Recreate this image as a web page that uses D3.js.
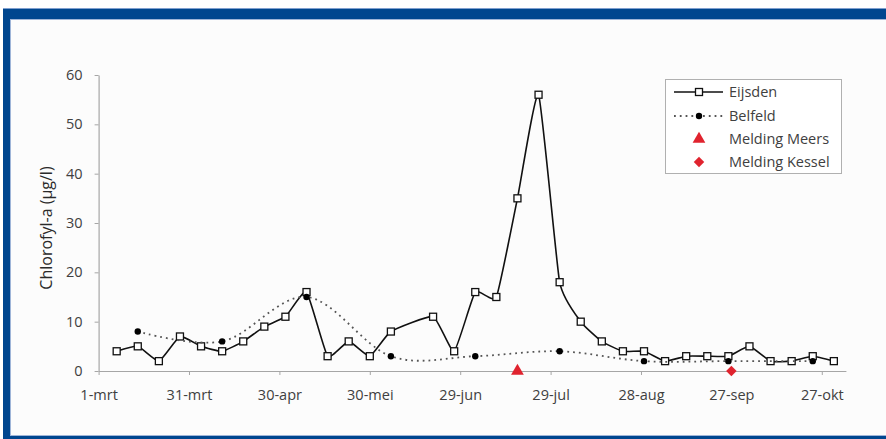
<!DOCTYPE html>
<html>
<head>
<meta charset="utf-8">
<script src="https://cdn.jsdelivr.net/npm/d3@7"></script>
<style>
  html, body { margin: 0; padding: 0; background: #ffffff; }
  svg { display: block; font-family: "Open Sans", "Noto Sans", sans-serif; }
</style>
</head>
<body>
<svg id="chart" width="886" height="439"></svg>
<script>
// Weekly chlorophyll-a measurements at Eijsden (µg/l)
const eijsdenDates = [
  "2003-03-07","2003-03-14","2003-03-21","2003-03-28","2003-04-04","2003-04-11",
  "2003-04-18","2003-04-25","2003-05-02","2003-05-09","2003-05-16","2003-05-23",
  "2003-05-30","2003-06-06","2003-06-20","2003-06-27","2003-07-04","2003-07-11",
  "2003-07-18","2003-07-25","2003-08-01","2003-08-08","2003-08-15","2003-08-22",
  "2003-08-29","2003-09-05","2003-09-12","2003-09-19","2003-09-26","2003-10-03",
  "2003-10-10","2003-10-17","2003-10-24","2003-10-31"
];
const eijsdenValues = [
  4, 5, 2, 7, 5, 4,
  6, 9, 11, 16, 3, 6,
  3, 8, 11, 4, 16, 15,
  35, 56, 18, 10, 6, 4,
  4, 2, 3, 3, 3, 5,
  2, 2, 3, 2
];

// Four-weekly measurements at Belfeld (µg/l)
const belfeldDates = [
  "2003-03-14","2003-04-11","2003-05-09","2003-06-06","2003-07-04",
  "2003-08-01","2003-08-29","2003-09-26","2003-10-24"
];
const belfeldValues = [8, 6, 15, 3, 3, 4, 2, 2, 2];

// Reported algal bloom notifications
const meersDates = ["2003-07-18"];
const kesselDates = ["2003-09-27"];

// Axis ticks
const xTickDates = [
  "2003-03-01","2003-03-31","2003-04-30","2003-05-30","2003-06-29",
  "2003-07-29","2003-08-28","2003-09-27","2003-10-27"
];
const xTickLabels = ["1-mrt","31-mrt","30-apr","30-mei","29-jun","29-jul","28-aug","27-sep","27-okt"];
const yTicks = [0, 10, 20, 30, 40, 50, 60];

const legendLabels = ["Eijsden", "Belfeld", "Melding Meers", "Melding Kessel"];

const parse = d3.utcParse("%Y-%m-%d");
const svg = d3.select("#chart");

// ---- frame ----
svg.append("rect").attr("x", 0).attr("y", 0).attr("width", 886).attr("height", 439).attr("fill", "#ffffff");
svg.append("rect").attr("x", 3).attr("y", 8).attr("width", 883).attr("height", 431).attr("fill", "#7f9fcf");
svg.append("rect").attr("x", 3).attr("y", 9).attr("width", 883).attr("height", 430).attr("fill", "#00468f");
svg.append("rect").attr("x", 10).attr("y", 19).attr("width", 876).attr("height", 417).attr("fill", "#9fb5d8");
svg.append("rect").attr("x", 11).attr("y", 20).attr("width", 875).attr("height", 415).attr("fill", "#fcfcfc");

// ---- scales ----
const x = d3.scaleUtc()
  .domain([parse("2003-03-01"), parse("2003-11-04")])
  .range([98.6, 845.9]);
const y = d3.scaleLinear().domain([0, 60]).range([371, 75]);

const axisColor = "#a6a6a6";
const textColor = "#404040";

// ---- axes ----
const xAxis = d3.axisBottom(x)
  .tickValues(xTickDates.map(parse))
  .tickFormat((d, i) => xTickLabels[i])
  .tickSize(4)
  .tickSizeOuter(0);
const gx = svg.append("g").attr("transform", `translate(0,${y(0)})`).call(xAxis);
gx.select(".domain").attr("stroke", axisColor).attr("stroke-width", 1.2);
gx.selectAll(".tick line").attr("stroke", axisColor);
gx.selectAll(".tick text")
  .attr("fill", textColor).attr("font-size", 14.5).attr("dy", 0).attr("y", 29)
  .attr("font-family", "'Open Sans', sans-serif");

const yAxis = d3.axisLeft(y).tickValues(yTicks).tickSize(4).tickSizeOuter(0).tickPadding(12);
const gy = svg.append("g").attr("transform", `translate(${x(parse("2003-03-01"))},0)`).call(yAxis);
gy.select(".domain").attr("stroke", axisColor).attr("stroke-width", 1.2);
gy.selectAll(".tick line").attr("stroke", axisColor);
gy.selectAll(".tick text")
  .attr("fill", textColor).attr("font-size", 14.5)
  .attr("font-family", "'Open Sans', sans-serif");

svg.append("text")
  .attr("transform", "translate(52,228) rotate(-90)")
  .attr("text-anchor", "middle")
  .attr("fill", "#2a2a2a")
  .attr("font-size", 16)
  .text("Chlorofyl-a (µg/l)");

// ---- series ----
const eijsden = eijsdenDates.map((d, i) => ({ date: parse(d), value: eijsdenValues[i] }));
const belfeld = belfeldDates.map((d, i) => ({ date: parse(d), value: belfeldValues[i] }));

const lineFor = tension => d3.line()
  .x(d => x(d.date))
  .y(d => y(d.value))
  .curve(d3.curveCardinal.tension(tension));

svg.append("path")
  .datum(eijsden)
  .attr("d", lineFor(0.55))
  .attr("fill", "none")
  .attr("stroke", "#111")
  .attr("stroke-width", 1.6);

svg.selectAll("rect.eij")
  .data(eijsden)
  .join("rect")
  .attr("class", "eij")
  .attr("x", d => x(d.date) - 3.5)
  .attr("y", d => y(d.value) - 3.5)
  .attr("width", 7)
  .attr("height", 7)
  .attr("fill", "#fff")
  .attr("stroke", "#111")
  .attr("stroke-width", 1.3);

svg.append("path")
  .datum(belfeld)
  .attr("d", lineFor(0))
  .attr("fill", "none")
  .attr("stroke", "#555")
  .attr("stroke-width", 1.8)
  .attr("stroke-dasharray", "1.8,4");

svg.selectAll("circle.bel")
  .data(belfeld)
  .join("circle")
  .attr("class", "bel")
  .attr("cx", d => x(d.date))
  .attr("cy", d => y(d.value))
  .attr("r", 3.2)
  .attr("fill", "#000");

const red = "#e0232e";
svg.selectAll("path.meers")
  .data(meersDates.map(parse))
  .join("path")
  .attr("class", "meers")
  .attr("transform", d => `translate(${x(d)},${y(0)})`)
  .attr("d", d3.symbol(d3.symbolTriangle, 70))
  .attr("fill", red);

svg.selectAll("path.kessel")
  .data(kesselDates.map(parse))
  .join("path")
  .attr("class", "kessel")
  .attr("transform", d => `translate(${x(d)},${y(0)})`)
  .attr("d", d3.symbol(d3.symbolDiamond2, 70))
  .attr("fill", red);

// ---- legend ----
const lg = svg.append("g");
lg.append("rect")
  .attr("x", 665.5).attr("y", 79.5).attr("width", 176).attr("height", 94)
  .attr("fill", "#fff").attr("stroke", "#b0b0b0").attr("stroke-width", 1);

const rowY = [92, 116, 139, 162];
const symX = 699;
// Eijsden
lg.append("line").attr("x1", 674).attr("x2", 723).attr("y1", rowY[0]).attr("y2", rowY[0])
  .attr("stroke", "#111").attr("stroke-width", 1.6);
lg.append("rect").attr("x", symX - 3.5).attr("y", rowY[0] - 3.5).attr("width", 7).attr("height", 7)
  .attr("fill", "#fff").attr("stroke", "#111").attr("stroke-width", 1.3);
// Belfeld
lg.append("line").attr("x1", 674).attr("x2", 723).attr("y1", rowY[1]).attr("y2", rowY[1])
  .attr("stroke", "#555").attr("stroke-width", 1.8).attr("stroke-dasharray", "1.8,4");
lg.append("circle").attr("cx", symX).attr("cy", rowY[1]).attr("r", 3.2).attr("fill", "#000");
// Meers
lg.append("path").attr("transform", `translate(${symX},${rowY[2]})`)
  .attr("d", d3.symbol(d3.symbolTriangle, 70)).attr("fill", red);
// Kessel
lg.append("path").attr("transform", `translate(${symX},${rowY[3]})`)
  .attr("d", d3.symbol(d3.symbolDiamond2, 70)).attr("fill", red);

lg.selectAll("text.lbl")
  .data(legendLabels)
  .join("text")
  .attr("class", "lbl")
  .attr("x", 729)
  .attr("y", (d, i) => rowY[i])
  .attr("dy", "0.35em")
  .attr("fill", textColor)
  .attr("font-size", 14.5)
  .text(d => d);
</script>
</body>
</html>
